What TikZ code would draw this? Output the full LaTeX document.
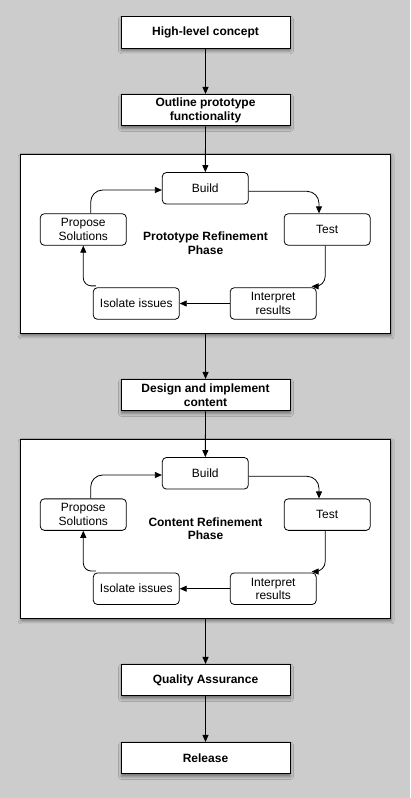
\documentclass[tikz,border=0pt]{standalone}
\usepackage{fontspec}
\setmainfont{Liberation Sans}
\usetikzlibrary{arrows.meta, shadows.blur}
\definecolor{bggray}{RGB}{204,204,204}

\tikzset{
  boxshadow/.style={blur shadow={shadow xshift=0.5pt, shadow yshift=-2.5pt, shadow blur radius=3pt, shadow opacity=45}},
  mainbox/.style={rectangle, draw=black, fill=white, line width=1pt, minimum width=169pt, minimum height=31.5pt, inner sep=0pt, align=center, font=\fontsize{12}{13.5}\selectfont\bfseries, boxshadow},
  phasebox/.style={rectangle, draw=black, fill=white, line width=1pt, minimum width=370pt, minimum height=179.3pt, inner sep=0pt, boxshadow},
  stepbox/.style={rectangle, rounded corners=4pt, draw=black, fill=white, line width=0.8pt, minimum width=86pt, minimum height=31.5pt, inner sep=0pt, align=center, font=\fontsize{12}{13.5}\selectfont},
  phaselabel/.style={align=center, font=\fontsize{12}{13.5}\selectfont\bfseries},
  flow/.style={-{Triangle[length=7pt,width=6pt]}, line width=0.8pt},
  loop/.style={flow, rounded corners=12pt}
}

\begin{document}
\begin{tikzpicture}[x=1pt, y=-1pt]
\fill[bggray] (0,0) rectangle (410,798);
\useasboundingbox (0,0) rectangle (410,798);

% the two refinement phases
\node[phasebox] (phase1) at (205.7,243.7) {};
\node[phasebox] (phase2) at (205.7,528.8) {};

% main flow
\node[mainbox] (concept) at (205.5,32.5) {High-level concept};
\node[mainbox] (outline) at (205.5,110.2) {Outline prototype\\functionality};
\node[mainbox] (design) at (205.5,395.2) {Design and implement\\content};
\node[mainbox] (qa) at (205.5,680.2) {Quality Assurance};
\node[mainbox] (release) at (205.5,758.2) {Release};

% prototype refinement
\node[stepbox] (build1) at (205.3,188.3) {Build};
\node[stepbox] (test1) at (327.2,229.5) {Test};
\node[stepbox] (interp1) at (273.2,303.5) {Interpret\\results};
\node[stepbox] (iso1) at (136.3,303.5) {Isolate issues};
\node[stepbox] (prop1) at (83.3,229.5) {Propose\\Solutions};
\node[phaselabel] (label1) at (205.5,243.3) {Prototype Refinement\\Phase};

% content refinement
\node[stepbox] (build2) at (205.3,473.3) {Build};
\node[stepbox] (test2) at (327.2,514.6) {Test};
\node[stepbox] (interp2) at (273.2,588.7) {Interpret\\results};
\node[stepbox] (iso2) at (136.3,588.7) {Isolate issues};
\node[stepbox] (prop2) at (83.3,514.6) {Propose\\Solutions};
\node[phaselabel] (label2) at (205.5,528.5) {Content Refinement\\Phase};

\draw[flow] (concept) -- (outline);
\draw[flow] (outline) -- (build1);
\draw[flow] (phase1) -- (design);
\draw[flow] (design) -- (build2);
\draw[flow] (phase2) -- (qa);
\draw[flow] (qa) -- (release);

\draw[loop] ([yshift=-3pt]build1.east) -| ([xshift=-8.2pt]test1.north);
\draw[loop, rounded corners=10pt] ([xshift=-2pt]test1.south) |- ([xshift=-5pt, yshift=1pt]interp1.north east);
\draw[flow] (interp1) -- (iso1);
\draw[loop, rounded corners=8pt] ([xshift=3pt, yshift=1.5pt]iso1.north west) -| (prop1.south);
\draw[loop] ([xshift=7.4pt]prop1.north) |- ([yshift=-1.7pt]build1.west);

\draw[loop] ([yshift=-3pt]build2.east) -| ([xshift=-8.2pt]test2.north);
\draw[loop, rounded corners=10pt] ([xshift=-2pt]test2.south) |- ([xshift=-5pt, yshift=1pt]interp2.north east);
\draw[flow] (interp2) -- (iso2);
\draw[loop, rounded corners=8pt] ([xshift=3pt, yshift=1.5pt]iso2.north west) -| (prop2.south);
\draw[loop] ([xshift=7.4pt]prop2.north) |- ([yshift=-1.7pt]build2.west);
\end{tikzpicture}
\end{document}
